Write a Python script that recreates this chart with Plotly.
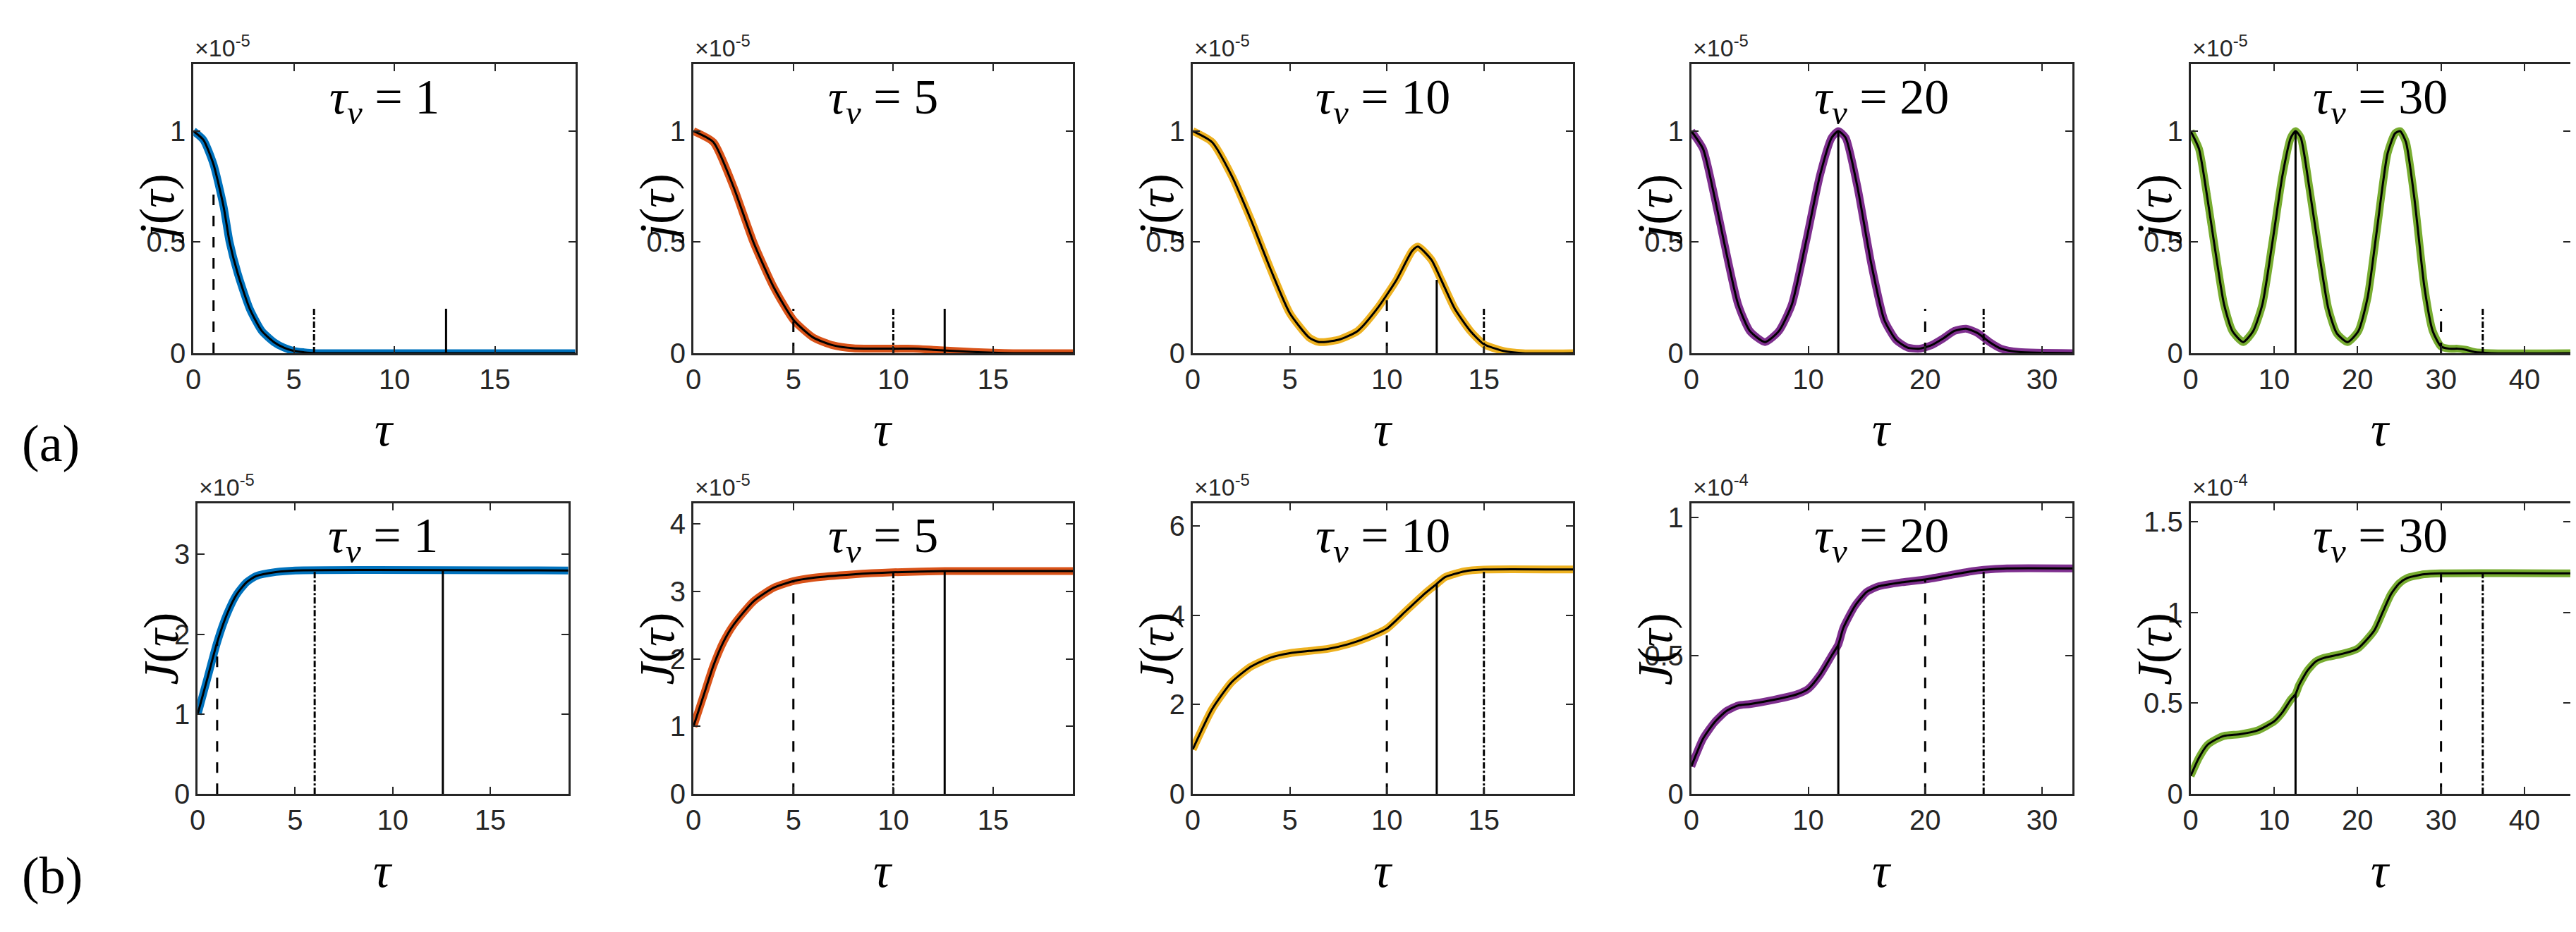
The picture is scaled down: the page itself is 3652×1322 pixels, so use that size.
import plotly.graph_objects as go

W, H = 3652, 1322
tau_v = [1, 5, 10, 20, 30]
colors = ["#0072BD", "#D95319", "#EDB120", "#7E2F8E", "#77AC30"]
xmax = [19, 19, 19.6, 32.6, 45.5]
xticks = [[0, 5, 10, 15], [0, 5, 10, 15], [0, 5, 10, 15], [0, 10, 20, 30], [0, 10, 20, 30, 40]]

# row (a): j(tau) in units of 1e-5
ja_x = [
    [0, 0.5, 1, 1.5, 1.8, 2.2, 2.8, 3.4, 4, 4.5, 5, 5.5, 6, 8, 19],
    [0, 1, 2, 3, 4, 5, 6, 7, 8, 10, 11, 12, 13, 14, 15, 16, 19],
    [0, 1, 2, 3, 4, 5, 6, 6.5, 7.5, 8.5, 9.5, 10.5, 11.3, 11.6, 12.3, 12.8, 13.5, 14.3, 15, 16, 17, 19.6],
    [0, 1, 2, 2.8, 4, 5, 6.3, 7.5, 8.6, 9.8, 11, 12, 12.57, 13.2, 14.2, 15.4, 16.5, 17.5, 18.5, 19.5, 20.5, 21.5, 22.5, 23.5, 24.5, 25.5, 26.5, 28, 32.6],
    [0, 1, 2, 2.8, 4, 5, 6.3, 7.5, 8.6, 9.8, 11, 12, 12.57, 13.2, 14.2, 15.4, 16.5, 17.5, 18.8, 20.1, 21.2, 22.3, 23.6, 24.5, 25.1, 25.8, 26.8, 28, 29, 30, 31, 32, 33, 34, 36, 45.5],
]
ja_y = [
    [1.0, 0.96, 0.85, 0.66, 0.5, 0.36, 0.2, 0.1, 0.05, 0.025, 0.01, 0.004, 0.0, 0.0, 0.0],
    [1.0, 0.95, 0.75, 0.5, 0.3, 0.15, 0.07, 0.035, 0.022, 0.02, 0.02, 0.015, 0.01, 0.005, 0.002, 0.0, 0.0],
    [1.0, 0.95, 0.8, 0.6, 0.38, 0.18, 0.07, 0.05, 0.06, 0.1, 0.2, 0.33, 0.46, 0.48, 0.42, 0.33, 0.2, 0.1, 0.04, 0.01, 0.0, 0.0],
    [1.0, 0.92, 0.7, 0.5, 0.22, 0.1, 0.05, 0.1, 0.22, 0.5, 0.8, 0.97, 1.0, 0.97, 0.75, 0.4, 0.15, 0.06, 0.025, 0.02, 0.035, 0.065, 0.1, 0.11, 0.09, 0.05, 0.02, 0.005, 0.0],
    [1.0, 0.92, 0.7, 0.5, 0.22, 0.1, 0.05, 0.1, 0.22, 0.5, 0.8, 0.97, 1.0, 0.97, 0.75, 0.45, 0.2, 0.09, 0.05, 0.1, 0.25, 0.55, 0.9, 0.99, 1.0, 0.95, 0.7, 0.3, 0.1, 0.03, 0.02, 0.02, 0.015, 0.005, 0.0, 0.0],
]
ja_ymax = [1.3, 1.3, 1.3, 1.3, 1.3]
ja_ticks = [0, 0.5, 1]
ja_vx = [[1, 6, 12.57], [5, 10, 12.57], [10, 12.57, 15], [12.57, 20, 25], [12.57, 30, 35]]
ja_vtop = [[0.72, 0.2, 0.2], [0.2, 0.2, 0.2], [0.27, 0.33, 0.2], [1.0, 0.2, 0.2], [1.0, 0.2, 0.2]]
ja_vdash = [["longdash", "dashdot", "solid"], ["longdash", "dashdot", "solid"],
            ["longdash", "solid", "dashdot"], ["solid", "longdash", "dashdot"], ["solid", "longdash", "dashdot"]]

# row (b): J(tau)
jb_x = [
    [0, 0.5, 1, 1.5, 2, 2.5, 3, 4, 5, 19],
    [0, 0.5, 1, 1.5, 2, 3, 4, 5, 6, 8, 10, 12.57, 19],
    [0, 1, 2, 3, 4, 5, 6, 7, 8, 9, 10, 11, 12, 12.57, 13, 14, 15, 19.6],
    [0, 1, 2, 3, 4, 5, 7, 9, 10, 11, 12, 12.57, 13, 14, 15, 16, 18, 20, 22, 24, 25, 27, 32.6],
    [0, 1, 2, 3, 4, 6, 8, 10, 11, 12, 12.57, 13, 14, 15, 16, 18, 20, 22, 23, 24, 25, 26, 28, 30, 45.5],
]
jb_y = [
    [1.0, 1.45, 1.9, 2.25, 2.5, 2.65, 2.73, 2.78, 2.8, 2.8],
    [1.0, 1.45, 1.9, 2.25, 2.5, 2.85, 3.05, 3.15, 3.2, 3.25, 3.28, 3.3, 3.3],
    [1.0, 1.9, 2.5, 2.85, 3.05, 3.15, 3.2, 3.25, 3.35, 3.5, 3.7, 4.1, 4.5, 4.7, 4.85, 4.98, 5.02, 5.02],
    [0.1, 0.2, 0.26, 0.3, 0.32, 0.325, 0.34, 0.36, 0.38, 0.43, 0.5, 0.54, 0.6, 0.68, 0.73, 0.75, 0.765, 0.775, 0.79, 0.805, 0.81, 0.815, 0.815],
    [0.1, 0.2, 0.27, 0.3, 0.32, 0.33, 0.35, 0.4, 0.45, 0.52, 0.55, 0.6, 0.68, 0.73, 0.75, 0.77, 0.8, 0.9, 1.0, 1.1, 1.16, 1.19, 1.21, 1.215, 1.215],
]
jb_ymax = [3.64, 4.3, 6.5, 1.05, 1.6]
jb_ticks = [[0, 1, 2, 3], [0, 1, 2, 3, 4], [0, 2, 4, 6], [0, 0.5, 1], [0, 0.5, 1, 1.5]]
jb_exp = ["-5", "-5", "-5", "-4", "-4"]
jb_vx = [[1, 6, 12.57], [5, 10, 12.57], [10, 12.57, 15], [12.57, 20, 25], [12.57, 30, 35]]
jb_vtop = [[1.9, 2.8, 2.8], [3.15, 3.28, 3.3], [3.7, 4.7, 5.02], [0.54, 0.775, 0.81], [0.55, 1.215, 1.215]]
jb_vdash = ja_vdash

xdom = [(256, 799), (967, 1507), (1677, 2218), (2386, 2928), (3096, 3636)]
xdom_b = [(262, 789), (967, 1507), (1677, 2218), (2386, 2928), (3096, 3636)]
ydom_a = (83, 500)
ydom_b = (717, 1137)

fig = go.Figure()
ann = []
tickfont = dict(family="Liberation Sans", size=40, color="#262626")

def add_panel(k, row, xs, ys, ymax, yticks, exp, vx, vtop, vdash, dom, ydom, ylab):
    idx = row * 5 + k + 1
    xa = "x" if idx == 1 else f"x{idx}"
    ya = "y" if idx == 1 else f"y{idx}"
    fig.add_trace(go.Scatter(x=xs, y=ys, mode="lines", line=dict(color=colors[k], width=11, shape="spline", smoothing=0.6),
                             xaxis=xa, yaxis=ya, showlegend=False, hoverinfo="skip"))
    fig.add_trace(go.Scatter(x=xs, y=ys, mode="lines", line=dict(color="black", width=3, shape="spline", smoothing=0.6),
                             xaxis=xa, yaxis=ya, showlegend=False, hoverinfo="skip"))
    for v, t, d in zip(vx, vtop, vdash):
        fig.add_trace(go.Scatter(x=[v, v], y=[0, t], mode="lines", line=dict(color="black", width=3, dash=d),
                                 xaxis=xa, yaxis=ya, showlegend=False, hoverinfo="skip"))
    axis_common = dict(showgrid=False, zeroline=False, showline=True, linecolor="#262626", linewidth=3,
                       mirror="ticks", ticks="inside", ticklen=10, tickwidth=2, tickcolor="#262626", tickfont=tickfont)
    fig.update_layout(**{
        ("xaxis" if idx == 1 else f"xaxis{idx}"): dict(axis_common, domain=[dom[0] / W, dom[1] / W], range=[0, xmax[k]],
                                                        tickvals=xticks[k], anchor=ya),
        ("yaxis" if idx == 1 else f"yaxis{idx}"): dict(axis_common, domain=[1 - ydom[1] / H, 1 - ydom[0] / H], range=[0, ymax],
                                                        tickvals=yticks, anchor=xa),
    })
    xd0, xd1 = dom[0] / W, dom[1] / W
    yd0, yd1 = 1 - ydom[1] / H, 1 - ydom[0] / H
    ann.append(dict(xref="paper", yref="paper", x=xd0, y=yd1, xanchor="left", yanchor="bottom", showarrow=False,
                    text=f"×10<sup>{exp}</sup>", font=dict(family="Liberation Sans", size=34, color="#262626"), yshift=2))
    ann.append(dict(xref="paper", yref="paper", x=(xd0 + xd1) / 2, y=yd1 - 52 / H, xanchor="center", yanchor="middle", showarrow=False,
                    text=f"<i>τ<sub>v</sub></i> = {tau_v[k]}", font=dict(family="Liberation Serif", size=70, color="black")))
    ann.append(dict(xref="paper", yref="paper", x=(xd0 + xd1) / 2, y=yd0 - 110 / H, xanchor="center", yanchor="middle", showarrow=False,
                    text="<i>τ</i>", font=dict(family="Liberation Serif", size=70, color="black")))
    ann.append(dict(xref="paper", yref="paper", x=xd0 - 52 / W, y=(yd0 + yd1) / 2, xanchor="center", yanchor="middle", showarrow=False,
                    textangle=-90, text=ylab, font=dict(family="Liberation Serif", size=70, color="black")))

for k in range(5):
    add_panel(k, 0, ja_x[k], ja_y[k], ja_ymax[k], ja_ticks, "-5", ja_vx[k], ja_vtop[k], ja_vdash[k], xdom[k], ydom_a, "<i>j</i>(<i>τ</i>)")
    add_panel(k, 1, jb_x[k], jb_y[k], jb_ymax[k], jb_ticks[k], jb_exp[k], jb_vx[k], jb_vtop[k], jb_vdash[k], xdom_b[k], ydom_b, "<i>J</i>(<i>τ</i>)")

ann.append(dict(xref="paper", yref="paper", x=10 / W, y=1 - 630 / H, xanchor="left", yanchor="middle", showarrow=False,
                text="(a)", font=dict(family="Liberation Serif", size=74, color="black")))
ann.append(dict(xref="paper", yref="paper", x=10 / W, y=1 - 1255 / H, xanchor="left", yanchor="middle", showarrow=False,
                text="(b)", font=dict(family="Liberation Serif", size=74, color="black")))

fig.update_layout(width=W, height=H, margin=dict(l=0, r=0, t=0, b=0), paper_bgcolor="white", plot_bgcolor="white",
                  annotations=ann)
fig.write_html("out.html")
